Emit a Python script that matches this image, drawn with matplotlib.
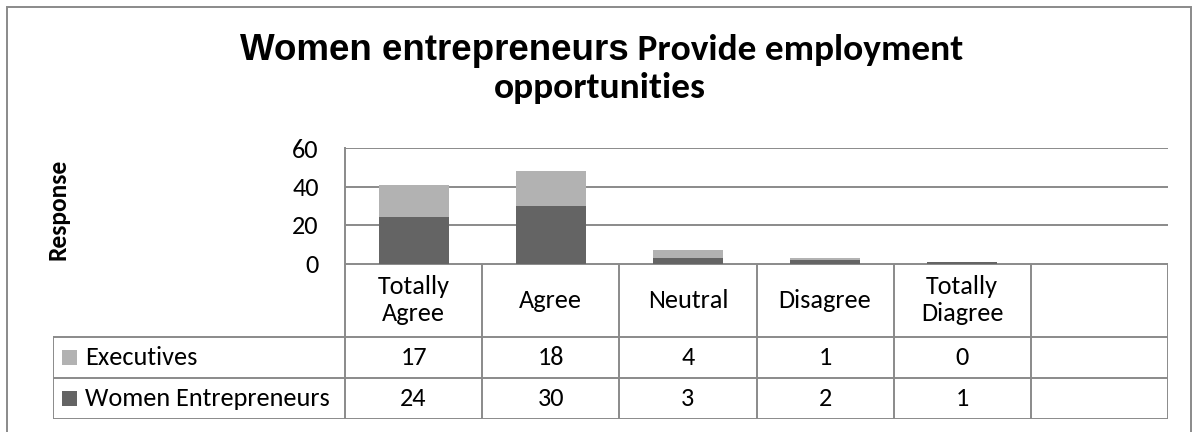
import numpy as np
import matplotlib
matplotlib.use("Agg")
import matplotlib.pyplot as plt
from matplotlib.patches import Rectangle

# survey answers per category (last slot of the chart stays empty)
categories = ["Totally\nAgree", "Agree", "Neutral", "Disagree", "Totally\nDiagree"]
executives = [17, 18, 4, 1, 0]
women_entrepreneurs = [24, 30, 3, 2, 1]
series_names = ["Executives", "Women Entrepreneurs"]
y_ticks = [0, 20, 40, 60]

W, H = 1193, 432
n_slots = 6
light = "#b2b2b2"
dark = "#646464"
line_col = "#8a8a8a"
body_font = ["Carlito", "Lato", "DejaVu Sans"]

fig = plt.figure(figsize=(W / 100, H / 100), dpi=100)
renderer = fig.canvas.get_renderer()


def fit_width(txt, target_px, vertical=False):
    # rescale a text so its drawn length is target_px pixels
    bb = txt.get_window_extent(renderer)
    size = bb.height if vertical else bb.width
    txt.set_fontsize(txt.get_fontsize() * target_px / size)
    return txt.get_fontsize()


# outer chart frame
fig.patches.append(Rectangle((7 / W, -0.05), (1191 - 7) / W, 1.05 - 7 / H,
                             transform=fig.transFigure, fill=False,
                             edgecolor=line_col, lw=1.4))

# plot area in pixels
px_left, px_right, px_top, px_bottom = 345, 1168, 148, 263.5
ax = fig.add_axes([px_left / W, 1 - px_bottom / H,
                   (px_right - px_left) / W, (px_bottom - px_top) / H])
x = np.arange(len(categories))
ax.bar(x, women_entrepreneurs, width=0.51, color=dark, zorder=3)
ax.bar(x, executives, width=0.51, bottom=women_entrepreneurs, color=light, zorder=3)
ax.set_xlim(-0.5, n_slots - 0.5)
ax.set_ylim(0, 60)
ax.set_xticks([])
for s in ["top", "right", "bottom"]:
    ax.spines[s].set_visible(False)
ax.spines["left"].set_color(line_col)
ax.spines["left"].set_linewidth(1.4)
ax.grid(axis="y", color=line_col, lw=1.4, zorder=0)

# data table under the plot
slot_px = (px_right - px_left) / n_slots
tab_left, tab_top, tab_bottom = 53, 263.5, 419
legend_slots = (px_left - tab_left) / slot_px
tax = fig.add_axes([tab_left / W, 1 - tab_bottom / H,
                    (px_right - tab_left) / W, (tab_bottom - tab_top) / H])
x0 = -0.5 - legend_slots
tax.set_xlim(x0, n_slots - 0.5)
tab_h = tab_bottom - tab_top
tax.set_ylim(0, tab_h)
tax.axis("off")
row_h = 41
rows_y = [0, row_h, 2 * row_h, tab_h]
lk = dict(color=line_col, lw=1.4, solid_capstyle="projecting")

# size the table font from the longest legend entry
probe = tax.text(0, 0, series_names[1], fontsize=15, family=body_font)
tab_fs = fit_width(probe, 245)
probe.remove()

ax.set_yticks(y_ticks)
ax.set_yticklabels([str(t) for t in y_ticks], fontsize=tab_fs, family=body_font)
ax.tick_params(axis="y", length=0, pad=19)

# horizontal rules
tax.plot([-0.5, n_slots - 0.5], [tab_h, tab_h], **lk)
for yy in rows_y[:3]:
    tax.plot([x0, n_slots - 0.5], [yy, yy], **lk)
# vertical rules
tax.plot([x0, x0], [0, 2 * row_h], **lk)
for k in range(n_slots + 1):
    tax.plot([k - 0.5, k - 0.5], [0, tab_h], **lk)

# header row with category names
for i, c in enumerate(categories):
    tax.text(i, (2 * row_h + tab_h) / 2, c, ha="center", va="center",
             fontsize=tab_fs, family=body_font, linespacing=1.2)

# value rows with legend keys
series = [executives, women_entrepreneurs]
colors = [light, dark]
for r, (name, vals, col) in enumerate(zip(series_names, series, colors)):
    yc = 2 * row_h - (r + 0.5) * row_h
    key_w = 15 / slot_px
    tax.add_patch(Rectangle((x0 + 9 / slot_px, yc - 7.5), key_w, 15,
                            color=col, lw=0))
    tax.text(x0 + 32 / slot_px, yc, name, ha="left", va="center",
             fontsize=tab_fs, family=body_font)
    for i, v in enumerate(vals):
        tax.text(i, yc, str(v), ha="center", va="center",
                 fontsize=tab_fs, family=body_font)

# axis title
ylab = fig.text(58 / W, 1 - 209 / H, "Response", rotation=90, ha="center",
                va="center", fontsize=14, fontweight="bold", family=body_font)
fit_width(ylab, 102, vertical=True)

# chart title: two fonts on the first line
part1 = fig.text(0, 1 - 60 / H, "Women entrepreneurs", ha="left", va="baseline",
                 fontsize=24, fontweight="bold", family="Liberation Sans")
part2 = fig.text(0, 1 - 60 / H, " Provide employment", ha="left", va="baseline",
                 fontsize=22, fontweight="bold", family=body_font)
fit_width(part1, 390)
title_fs = fit_width(part2, 333)
w1 = part1.get_window_extent(renderer).width
w2 = part2.get_window_extent(renderer).width
start = 601.5 - (w1 + w2) / 2
part1.set_x(start / W)
part2.set_x((start + w1) / W)
fig.text(600 / W, 1 - 98 / H, "opportunities", ha="center", va="baseline",
         fontsize=title_fs, fontweight="bold", family=body_font)

fig.savefig("out.png", dpi=100)
